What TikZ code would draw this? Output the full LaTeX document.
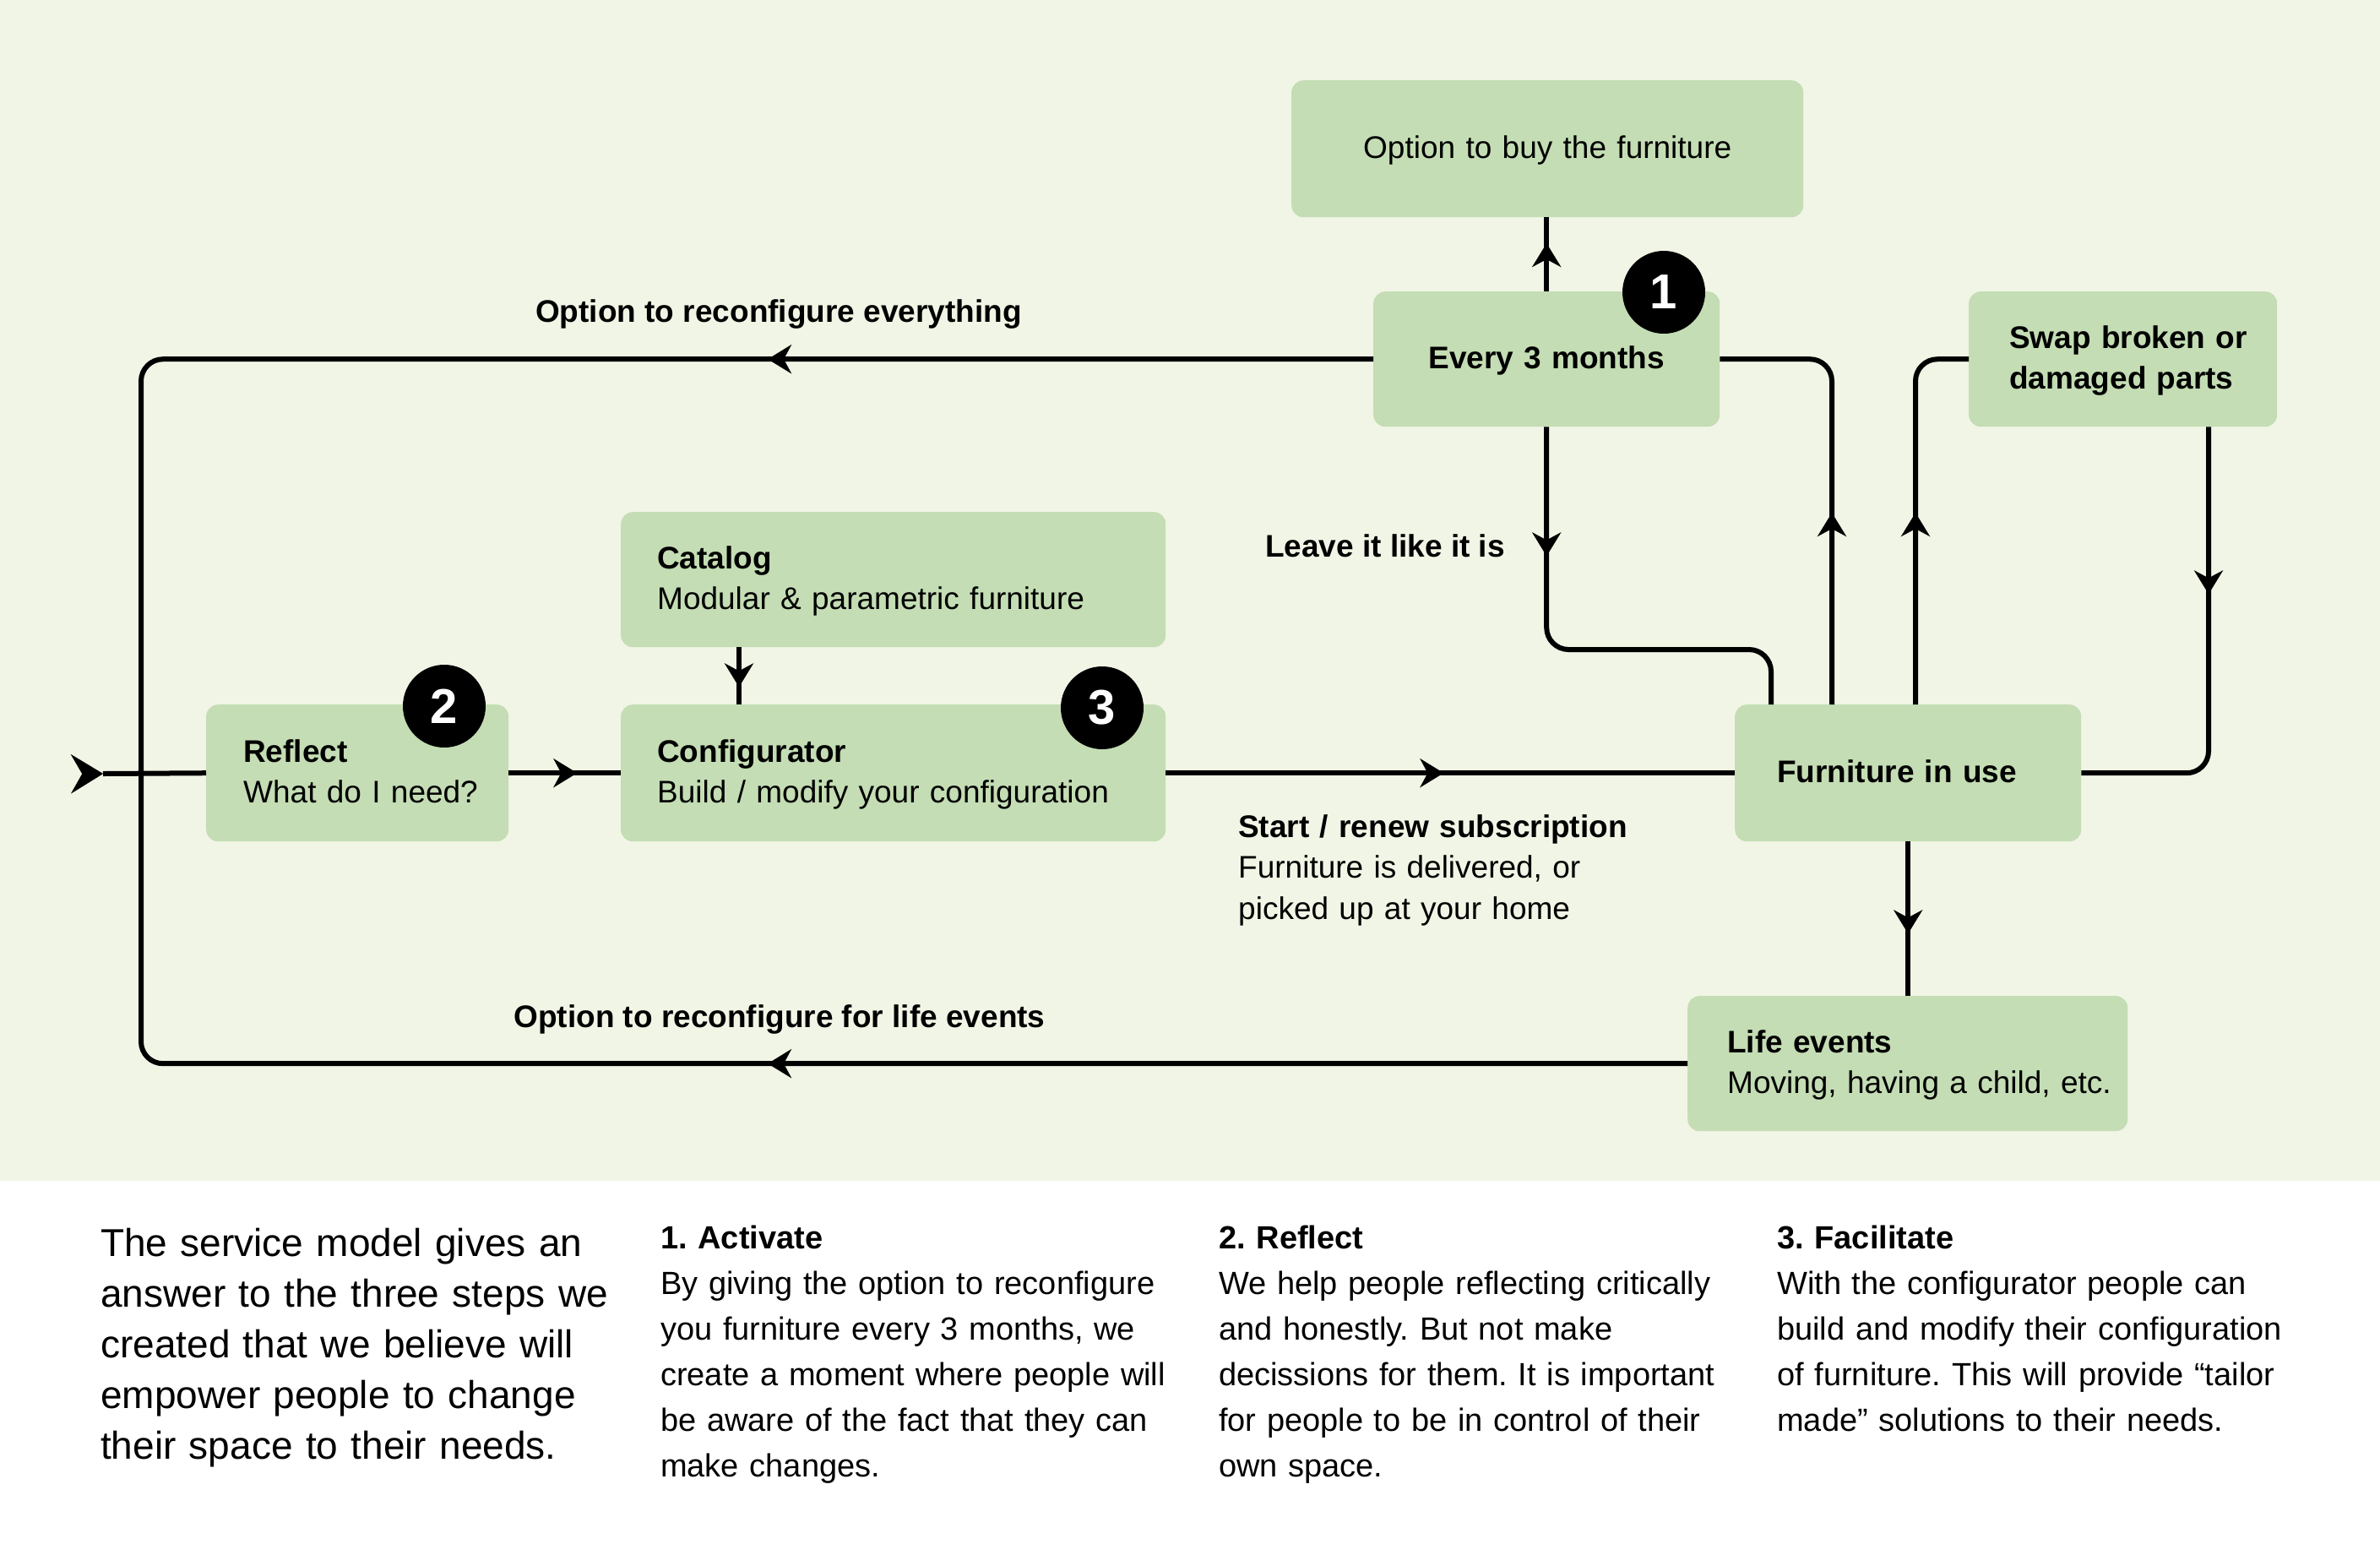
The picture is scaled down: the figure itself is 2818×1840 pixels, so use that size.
\documentclass[tikz,border=0pt]{standalone}
\usepackage{fontspec}
\setmainfont{Liberation Sans}
\usetikzlibrary{arrows.meta,decorations.markings,calc}
\definecolor{bgc}{RGB}{241,245,229}
\definecolor{boxc}{RGB}{196,221,180}
\newcommand{\dstrut}{\rule[-8pt]{0pt}{8pt}}
\frenchspacing
\tikzset{
  box/.style={fill=boxc, rounded corners=14pt, inner xsep=0pt, inner ysep=0pt,
    align=left, anchor=north west, text height=30pt,
    font=\fontsize{37}{48}\selectfont},
  cbox/.style={box, align=center},
  conn/.style={line width=6pt, rounded corners=26pt},
  tipat/.style={postaction={decorate}, decoration={markings,
    mark=at position #1 with {\pgfsetcornersarced{\pgfpointorigin}\arrow{Stealth[length=28pt,width=34pt,inset=9pt]}}}},
  bigtipat/.style={postaction={decorate}, decoration={markings,
    mark=at position #1 with {\pgfsetcornersarced{\pgfpointorigin}\arrow{Stealth[length=38pt,width=46pt,inset=13pt]}}}},
  badge/.style={circle, fill=black, text=white, minimum size=98pt, inner sep=0pt,
    font=\fontsize{58}{58}\selectfont\bfseries},
  lab/.style={inner sep=0pt, align=left, font=\fontsize{37}{48.5}\selectfont},
  para/.style={inner sep=0pt, align=left, anchor=north west},
}
\begin{document}
\begin{tikzpicture}[x=1pt, y=-1pt]
\useasboundingbox (0,0) rectangle (2818,1840);
\fill[white] (0,0) rectangle (2818,1840);
\fill[bgc] (0,0) rectangle (2818,1398);

% boxes
\node[cbox, text width=606pt, minimum height=162pt] (buy) at (1529,95) {Option to buy the furniture\dstrut};
\node[cbox, text width=410pt, minimum height=160pt] (e3) at (1626,345) {\textbf{Every 3 months}\dstrut};
\node[box, text width=365pt, minimum height=160pt] (swap) at (2331,345) {\hspace*{48pt}\textbf{Swap broken or}\\\hspace*{48pt}\textbf{damaged parts}\dstrut};
\node[box, text width=645pt, minimum height=160pt] (cat) at (735,606) {\hspace*{43pt}\textbf{Catalog}\\\hspace*{43pt}Modular \& parametric furniture\dstrut};
\node[box, text width=358pt, minimum height=162pt] (refl) at (244,834) {\hspace*{44pt}\textbf{Reflect}\\\hspace*{44pt}What do I need?\dstrut};
\node[box, text width=645pt, minimum height=162pt] (conf) at (735,834) {\hspace*{43pt}\textbf{Configurator}\\\hspace*{43pt}Build / modify your configuration\dstrut};
\node[box, text width=410pt, minimum height=162pt] (furn) at (2054,834) {\hspace*{50pt}\textbf{Furniture in use}\dstrut};
\node[box, text width=521pt, minimum height=160pt] (life) at (1998,1179) {\hspace*{47pt}\textbf{Life events}\\\hspace*{47pt}Moving, having a child, etc.\dstrut};

% helper coordinates
\coordinate (in) at (122,916);
\coordinate (j) at (167,916);
\coordinate (k1) at (2097,769);

% connectors
\draw[conn, bigtipat=0.2pt] (in) -- (refl.west);
\draw[conn, tipat=81pt] (refl.east) -- (conf.west);
\draw[conn, tipat=329pt] (conf.east) -- (furn.west);
\draw[conn, tipat=47pt] ($(cat.south west)+(140,0)$) -- ($(conf.north west)+(140,0)$);
\draw[conn, tipat=57pt] (e3.north) -- (e3.north |- buy.south);
\draw[conn, tipat=717pt] (e3.west) -| (j);
\draw[conn, tipat=1089pt] (life.west) -| (j);
\draw[conn, tipat=153pt] (e3.south) |- (k1) -- (k1 |- furn.north);
\draw[conn, tipat=227pt] ($(furn.north west)+(115,0)$) |- (e3.east);
\draw[conn, tipat=227pt] ($(furn.north west)+(214,0)$) |- (swap.west);
\draw[conn, tipat=198pt] ($(swap.south west)+(284,0)$) |- (furn.east);
\draw[conn, tipat=109pt] (furn.south) -- (furn.south |- life.north);

% badges
\node[badge] (b1) at (1970,346) {1};
\node[badge] (b2) at (526,836) {2};
\node[badge] (b3) at (1305,838) {3};

% connector labels
\node[lab, anchor=base, font=\fontsize{37}{48}\selectfont\bfseries] (l1) at (922,381) {Option to reconfigure everything};
\node[lab, anchor=base, font=\fontsize{37}{48}\selectfont\bfseries] (l2) at (923,1216) {Option to reconfigure for life events};
\node[lab, anchor=base east, font=\fontsize{37}{48}\selectfont\bfseries] (l3) at (1782,659) {Leave it like it is};
\node[lab, anchor=north west, text width=600pt, text height=27pt] (l4) at (1466,964) {\textbf{Start / renew subscription}\\Furniture is delivered, or\\picked up at your home};

% bottom text
\node[para, font=\fontsize{46}{60}\selectfont, text width=650pt, text height=33pt] (intro) at (119,1454) {The service model gives an\\answer to the three steps we\\created that we believe will\\empower people to change\\their space to their needs.};
\node[para, font=\fontsize{38}{54}\selectfont, text width=640pt, text height=27pt] (c1) at (782,1451) {\textbf{1. Activate}\\By giving the option to reconfigure\\you furniture every 3 months, we\\create a moment where people will\\be aware of the fact that they can\\make changes.};
\node[para, font=\fontsize{38}{54}\selectfont, text width=640pt, text height=27pt] (c2) at (1443,1451) {\textbf{2. Reflect}\\We help people reflecting critically\\and honestly. But not make\\decissions for them. It is important\\for people to be in control of their\\own space.};
\node[para, font=\fontsize{38}{54}\selectfont, text width=640pt, text height=27pt] (c3) at (2104,1451) {\textbf{3. Facilitate}\\With the configurator people can\\build and modify their configuration\\of furniture. This will provide “tailor\\made” solutions to their needs.};
\end{tikzpicture}
\end{document}
